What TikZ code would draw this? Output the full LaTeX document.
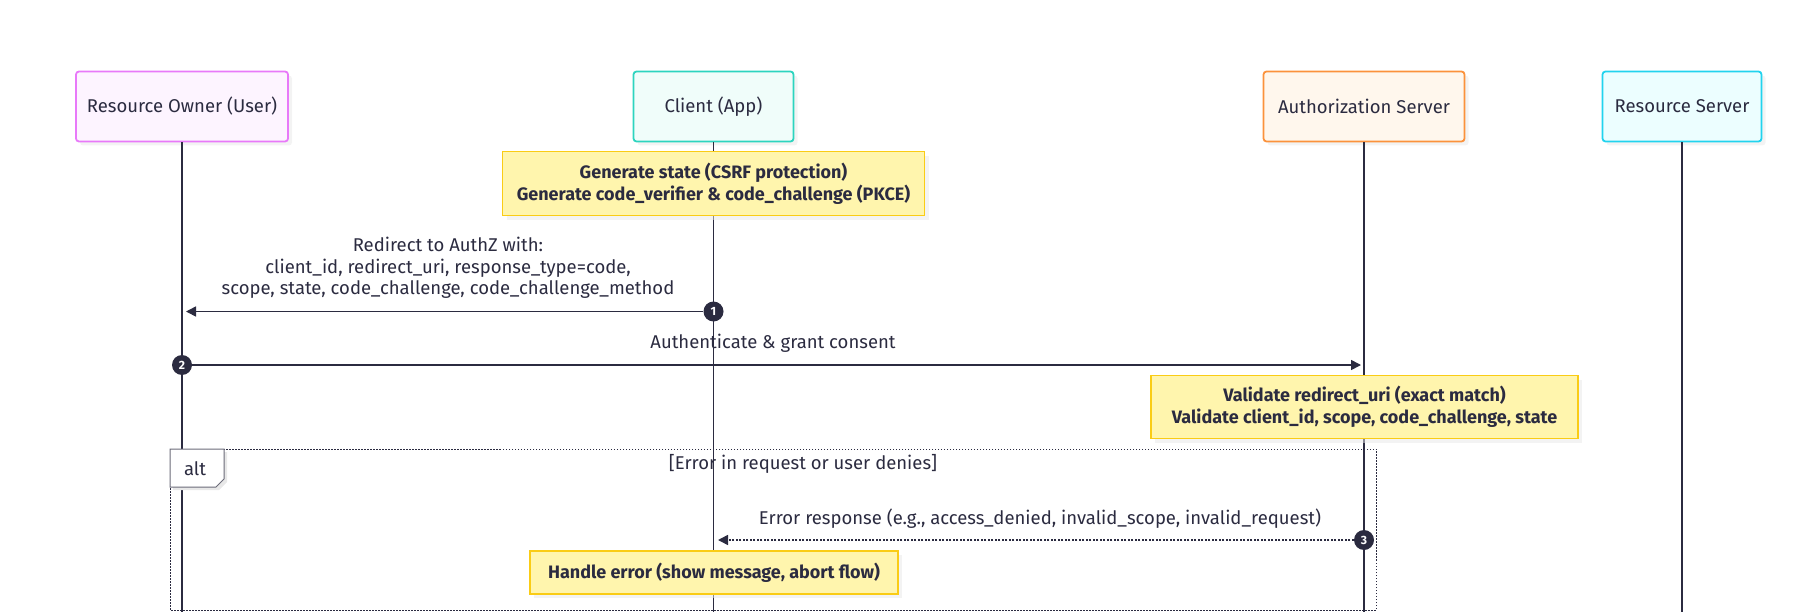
\documentclass[tikz,border=0pt]{standalone}
\usepackage{fontspec}
\setmainfont{Fira Sans}
\usetikzlibrary{arrows.meta,shadows}

\definecolor{ink}{HTML}{2B2B40}
\definecolor{rofill}{HTML}{FDF4FF}
\definecolor{roline}{HTML}{E879F9}
\definecolor{clfill}{HTML}{F0FDFA}
\definecolor{clline}{HTML}{2DD4BF}
\definecolor{asfill}{HTML}{FFF7ED}
\definecolor{asline}{HTML}{FB923C}
\definecolor{rsfill}{HTML}{ECFEFF}
\definecolor{rsline}{HTML}{22D3EE}
\definecolor{notefill}{HTML}{FFF5AD}
\definecolor{noteline}{HTML}{FACC15}

\begin{document}
\begin{tikzpicture}[
        x=1pt, y=-1pt,
        font=\fontsize{18.5}{21.5}\selectfont, text=ink,
        actor/.style={draw, rounded corners=3pt, line width=1.8pt, minimum height=70pt,
            drop shadow={shadow xshift=4pt, shadow yshift=-4pt, fill=black!9}},
        note/.style={draw=noteline, fill=notefill, line width=1.6pt, align=center,
            font=\fontsize{18}{21.5}\selectfont\bfseries,
            drop shadow={shadow xshift=4pt, shadow yshift=-4pt, fill=black!9}},
        lifeline/.style={draw=ink, line width=1.3pt},
        msg/.style={draw=ink, line width=1.6pt, -{Triangle[length=10pt,width=10pt]}},
        reply/.style={msg, dash pattern=on 2pt off 1.5pt},
        seqnum/.style={circle, fill=ink, text=white, inner sep=0pt, minimum size=20pt,
            font=\fontsize{12}{12}\selectfont\bfseries},
        label/.style={align=center}
    ]
    \useasboundingbox (0,0) rectangle (1803,612);
    \coordinate (bottom) at (0,612);

    % participants
    \node[actor, fill=rofill, draw=roline, minimum width=212pt] (ro) at (182,106.5) {Resource Owner (User)};
    \node[actor, fill=clfill, draw=clline, minimum width=160pt] (cl) at (713.5,106.5) {Client (App)};
    \node[actor, fill=asfill, draw=asline, minimum width=201pt] (as) at (1364,106.5) {Authorization Server};
    \node[actor, fill=rsfill, draw=rsline, minimum width=159pt] (rs) at (1682,106.5) {Resource Server};

    \foreach \a in {ro,cl,as,rs}
        \draw[lifeline] (\a.south) -- (\a.south |- bottom);

    % alt frame
    \draw[ink, line width=1pt, dash pattern=on 1.5pt off 1.5pt] (170,449) rectangle (1376,610);
    \fill[black!9] (173,452) -- (227,452) -- (227,482) -- (219,490) -- (173,490) -- cycle;
    \draw[ink!70, fill=white, line width=1pt] (170,449) -- (224,449) -- (224,479) -- (216,487) -- (170,487) -- cycle;
    \node (alttag) at (195,469) {alt};
    \node (guard) at (803,464) {[Error in request or user denies]};

    % notes
    \node[note, minimum width=422pt, minimum height=64pt] (note1) at (713.5,183.7)
        {Generate state (CSRF protection)\\Generate code\_verifier \& code\_challenge (PKCE)};
    \node[note, minimum width=427pt, minimum height=63pt] (note2) at (1364.5,407)
        {Validate redirect\_uri (exact match)\\Validate client\_id, scope, code\_challenge, state};
    \node[note, minimum width=368pt, minimum height=43pt] (note3) at (714,572.5)
        {Handle error (show message, abort flow)};

    % messages
    \node[label] (m1) at (448,268)
        {Redirect to AuthZ with:\\client\_id, redirect\_uri, response\_type=code,\\scope, state, code\_challenge, code\_challenge\_method};
    \node[seqnum] (n1) at (713.5,311.5) {1};
    \coordinate (a1) at (186,311.5);
    \draw[msg] (n1) -- (a1);

    \node[label] (m2) at (773,343) {Authenticate \& grant consent};
    \node[seqnum] (n2) at (182,365) {2};
    \coordinate (a2) at (1361,365);
    \draw[msg] (n2) -- (a2);

    \node[label] (m3) at (1040,519) {Error response (e.g., access\_denied, invalid\_scope, invalid\_request)};
    \node[seqnum] (n3) at (1364,540) {3};
    \coordinate (a3) at (718,540);
    \draw[reply] (n3) -- (a3);
\end{tikzpicture}
\end{document}
